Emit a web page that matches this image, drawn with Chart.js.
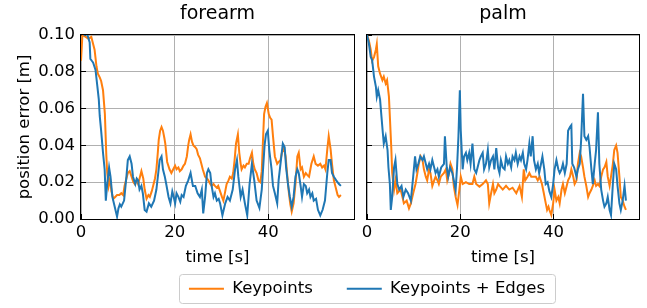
<!DOCTYPE html>
<html>
<head>
<meta charset="utf-8">
<script src="https://cdn.jsdelivr.net/npm/chart.js@4.4.0/dist/chart.umd.min.js"></script>
<style>
  html, body { margin: 0; padding: 0; background: #fff; overflow: hidden; }
  #wrap { position: relative; width: 647px; height: 308px; }
  #forearmChart { position: absolute; left: 0; top: 0; }
  #palmChart { position: absolute; left: 95px; top: 0; }
</style>
</head>
<body>
<div id="wrap">
  <canvas id="forearmChart" width="360" height="308"></canvas>
  <canvas id="palmChart" width="552" height="308"></canvas>
</div>
<script>
// series labels and tick values
const seriesNames = ['Keypoints', 'Keypoints + Edges'];
const xTicks = [0, 20, 40];
const yTicks = [0, 0.02, 0.04, 0.06, 0.08, 0.10];

// forearm - Keypoints (time [s], error [m])
const forearmKpT = [
  0.0, 0.3, 1.0, 1.6, 2.2, 2.6, 2.9, 3.3, 3.6, 4.0, 4.3, 4.7, 5.1, 5.4, 5.6, 5.9, 6.2, 6.5, 6.9, 7.3,
  7.7, 8.2, 8.6, 9.0, 9.3, 9.7, 10.0, 10.4, 10.8, 11.2, 11.5, 11.9, 12.2, 12.6, 12.9, 13.3, 13.6, 14.0, 14.4, 14.7,
  15.1, 15.4, 15.8, 16.1, 16.4, 16.6, 16.9, 17.2, 17.5, 17.8, 18.0, 18.4, 18.9, 19.3, 19.7, 20.1, 20.4, 20.8, 21.1, 21.5,
  21.9, 22.2, 22.6, 22.9, 23.1, 23.4, 23.7, 24.0, 24.4, 24.7, 25.0, 25.4, 25.7, 26.0, 26.5, 26.9, 27.2, 27.6, 27.9, 28.3,
  28.6, 29.0, 29.3, 29.7, 30.1, 30.4, 30.8, 31.1, 31.5, 31.8, 32.2, 32.5, 32.8, 33.1, 33.5, 33.8, 34.1, 34.3, 34.7, 35.0,
  35.4, 35.8, 36.1, 36.5, 36.8, 37.1, 37.5, 37.9, 38.3, 38.6, 38.9, 39.1, 39.4, 39.7, 40.1, 40.4, 40.7, 41.0, 41.4, 41.9,
  42.2, 42.6, 42.9, 43.3, 43.7, 44.0, 44.4, 44.7, 45.0, 45.4, 45.8, 46.2, 46.5, 46.9, 47.2, 47.6, 48.0, 48.3, 48.7, 49.2,
  49.7, 50.1, 50.6, 51.1, 51.5, 51.9, 52.2, 52.6, 52.9, 53.3, 53.6, 54.0, 54.5, 54.8, 55.1, 55.5
];
const forearmKpV = [
  0.086, 0.100, 0.099, 0.098, 0.099, 0.095, 0.092, 0.083, 0.079, 0.077, 0.075, 0.070, 0.057, 0.035, 0.025, 0.018, 0.022, 0.015, 0.011, 0.012,
  0.013, 0.013, 0.014, 0.013, 0.018, 0.022, 0.025, 0.026, 0.023, 0.020, 0.019, 0.021, 0.019, 0.023, 0.026, 0.022, 0.016, 0.011, 0.013, 0.012,
  0.015, 0.018, 0.022, 0.027, 0.036, 0.043, 0.048, 0.050, 0.048, 0.044, 0.041, 0.031, 0.027, 0.025, 0.027, 0.029, 0.027, 0.028, 0.026, 0.027,
  0.029, 0.030, 0.034, 0.040, 0.043, 0.046, 0.042, 0.040, 0.039, 0.038, 0.035, 0.033, 0.030, 0.027, 0.023, 0.022, 0.021, 0.019, 0.018, 0.019,
  0.018, 0.017, 0.018, 0.015, 0.012, 0.010, 0.015, 0.019, 0.021, 0.023, 0.022, 0.025, 0.032, 0.041, 0.046, 0.036, 0.030, 0.027, 0.029, 0.028,
  0.030, 0.030, 0.033, 0.036, 0.030, 0.027, 0.025, 0.021, 0.020, 0.026, 0.045, 0.057, 0.061, 0.063, 0.057, 0.055, 0.054, 0.045, 0.034, 0.030,
  0.031, 0.032, 0.036, 0.039, 0.034, 0.025, 0.014, 0.008, 0.004, 0.0085, 0.019, 0.034, 0.036, 0.027, 0.028, 0.023, 0.025, 0.024, 0.023, 0.030,
  0.034, 0.030, 0.029, 0.030, 0.028, 0.029, 0.027, 0.038, 0.045, 0.038, 0.030, 0.021, 0.016, 0.013, 0.012, 0.013
];

// forearm - Keypoints + Edges
const forearmKeT = [
  0.3, 0.8, 1.2, 1.5, 1.85, 2.0, 2.3, 2.6, 3.1, 3.5, 3.8, 4.0, 4.3, 4.7, 5.05, 5.3, 5.6, 6.0, 6.3, 6.7,
  7.2, 7.7, 8.0, 8.3, 8.6, 9.2, 9.7, 10.0, 10.4, 10.8, 11.1, 11.6, 11.9, 12.2, 12.5, 12.9, 13.2, 13.6, 14.0, 14.5,
  15.0, 15.6, 16.1, 16.5, 16.8, 17.2, 17.5, 17.9, 18.2, 18.7, 19.1, 19.5, 19.8, 20.1, 20.4, 20.8, 21.2, 21.5, 21.9, 22.4,
  22.9, 23.4, 23.9, 24.4, 24.9, 25.4, 25.8, 26.1, 26.5, 26.9, 27.2, 27.6, 27.9, 28.3, 28.6, 29.0, 29.4, 29.7, 30.2, 30.8,
  31.3, 31.8, 32.4, 32.9, 33.3, 33.6, 34.1, 34.5, 35.0, 35.5, 36.0, 36.5, 37.0, 37.5, 38.1, 38.6, 38.9, 39.2, 39.5, 39.9,
  40.2, 40.7, 41.0, 41.4, 41.9, 42.2, 42.6, 43.1, 43.5, 43.8, 44.2, 44.6, 45.0, 45.4, 45.8, 46.2, 46.5, 46.9, 47.2, 47.6,
  48.0, 48.3, 48.7, 49.0, 49.4, 49.7, 50.2, 50.6, 51.1, 51.6, 52.1, 52.6, 52.9, 53.3, 53.6, 54.0, 54.5, 55.1, 55.5
];
const forearmKeV = [
  0.101, 0.100, 0.101, 0.099, 0.096, 0.087, 0.086, 0.085, 0.081, 0.072, 0.065, 0.056, 0.048, 0.036, 0.027, 0.010, 0.019, 0.028, 0.023, 0.012,
  0.0067, 0.0013, 0.0058, 0.008, 0.0067, 0.010, 0.023, 0.032, 0.034, 0.030, 0.023, 0.019, 0.022, 0.021, 0.016, 0.018, 0.014, 0.0049, 0.004, 0.0085,
  0.0067, 0.010, 0.016, 0.025, 0.032, 0.034, 0.027, 0.023, 0.019, 0.012, 0.0085, 0.015, 0.012, 0.0085, 0.014, 0.012, 0.0094, 0.013, 0.012, 0.018,
  0.021, 0.025, 0.018, 0.018, 0.014, 0.012, 0.016, 0.003, 0.012, 0.025, 0.027, 0.025, 0.018, 0.012, 0.014, 0.010, 0.011, 0.0085, 0.002, 0.0085,
  0.012, 0.010, 0.016, 0.027, 0.032, 0.023, 0.012, 0.016, 0.0085, 0.002, 0.019, 0.030, 0.021, 0.010, 0.006, 0.016, 0.028, 0.040, 0.046, 0.048,
  0.0375, 0.027, 0.018, 0.014, 0.0085, 0.021, 0.030, 0.041, 0.039, 0.028, 0.019, 0.012, 0.0067, 0.012, 0.023, 0.027, 0.025, 0.018, 0.012, 0.019,
  0.018, 0.014, 0.016, 0.012, 0.014, 0.010, 0.011, 0.005, 0.002, 0.005, 0.010, 0.025, 0.032, 0.032, 0.025, 0.023, 0.021, 0.019, 0.018
];

// palm - Keypoints
const palmKpT = [
  0.0, 0.4, 0.8, 1.1, 1.5, 1.9, 2.1, 2.4, 2.8, 3.3, 3.6, 4.0, 4.3, 4.7, 4.9, 5.2, 5.4, 5.8, 6.1, 6.5,
  7.2, 7.6, 7.9, 8.5, 9.0, 9.4, 9.9, 10.4, 10.8, 11.1, 11.5, 11.9, 12.2, 12.6, 12.9, 13.3, 13.6, 14.0, 14.4, 14.7,
  15.1, 15.4, 15.8, 16.5, 16.9, 17.2, 17.6, 17.9, 18.3, 18.6, 19.0, 19.4, 19.8, 20.1, 20.5, 21.2, 21.9, 22.6, 23.0, 23.4,
  24.1, 24.8, 25.5, 25.9, 26.2, 26.6, 27.0, 27.3, 27.7, 28.1, 28.4, 29.1, 29.8, 30.5, 31.2, 32.0, 32.7, 33.2, 33.6, 33.9,
  34.4, 34.8, 35.2, 35.5, 36.2, 36.6, 37.0, 37.5, 37.9, 38.2, 38.6, 38.9, 39.1, 39.5, 39.9, 40.2, 40.6, 41.0, 41.3, 41.7,
  42.0, 42.4, 42.8, 43.1, 43.5, 43.8, 44.2, 44.5, 44.9, 45.2, 45.6, 45.9, 46.3, 46.6, 47.0, 47.4, 47.7, 48.1, 48.4, 48.8,
  49.1, 49.5, 49.8, 50.2, 50.6, 50.9, 51.3, 51.6, 52.0, 52.3, 52.7, 53.0, 53.4, 53.7, 54.1, 54.4, 54.8, 55.2, 55.5
];
const palmKpV = [
  0.100, 0.097, 0.092, 0.086, 0.088, 0.092, 0.095, 0.083, 0.079, 0.0755, 0.0774, 0.0737, 0.0755, 0.0665, 0.0556, 0.039, 0.025, 0.016, 0.021, 0.014,
  0.016, 0.012, 0.0085, 0.010, 0.0058, 0.0085, 0.014, 0.019, 0.025, 0.030, 0.034, 0.032, 0.027, 0.023, 0.021, 0.027, 0.025, 0.018, 0.021, 0.023,
  0.021, 0.019, 0.023, 0.025, 0.027, 0.021, 0.025, 0.030, 0.027, 0.018, 0.012, 0.0076, 0.016, 0.023, 0.019, 0.020, 0.019, 0.019, 0.023, 0.019,
  0.0176, 0.019, 0.021, 0.019, 0.0085, 0.014, 0.019, 0.014, 0.016, 0.019, 0.018, 0.016, 0.018, 0.016, 0.017, 0.014, 0.018, 0.012, 0.027, 0.021,
  0.023, 0.025, 0.023, 0.023, 0.023, 0.021, 0.023, 0.019, 0.014, 0.010, 0.0049, 0.0067, 0.0049, 0.0022, 0.0085, 0.016, 0.010, 0.012, 0.0085, 0.016,
  0.019, 0.014, 0.018, 0.021, 0.023, 0.027, 0.023, 0.019, 0.021, 0.030, 0.036, 0.034, 0.028, 0.023, 0.018, 0.012, 0.014, 0.016, 0.018, 0.021,
  0.018, 0.019, 0.018, 0.023, 0.027, 0.028, 0.031, 0.023, 0.018, 0.023, 0.030, 0.0375, 0.040, 0.036, 0.023, 0.012, 0.010, 0.0067, 0.0049
];

// palm - Keypoints + Edges
const palmKeT = [
  0.0, 0.4, 0.8, 1.1, 1.5, 1.9, 2.1, 2.4, 2.8, 3.1, 3.4, 3.6, 4.0, 4.4, 4.6, 4.9, 5.1, 5.4, 5.8, 6.1,
  6.5, 6.9, 7.4, 7.8, 8.3, 8.8, 9.4, 9.9, 10.3, 10.6, 11.0, 11.4, 11.9, 12.2, 12.6, 12.9, 13.3, 13.6, 14.0, 14.4,
  14.7, 15.1, 15.4, 15.9, 16.5, 16.7, 17.1, 17.4, 17.8, 18.3, 18.6, 19.0, 19.3, 19.6, 19.9, 20.1, 20.5, 20.8, 21.2, 21.5,
  21.9, 22.2, 22.6, 23.0, 23.4, 23.7, 24.1, 24.4, 24.8, 25.1, 25.5, 25.9, 26.2, 26.6, 27.0, 27.3, 27.7, 28.1, 28.4, 28.7,
  29.1, 29.5, 29.8, 30.2, 30.5, 30.9, 31.2, 31.6, 31.9, 32.3, 32.7, 33.0, 33.4, 33.7, 34.1, 34.4, 34.8, 35.1, 35.5, 35.8,
  36.2, 36.6, 36.9, 37.3, 37.6, 38.0, 38.3, 38.7, 39.1, 39.5, 39.9, 40.2, 40.6, 41.0, 41.3, 41.7, 42.0, 42.4, 42.8, 43.1,
  43.5, 43.8, 44.0, 44.4, 44.9, 45.2, 45.6, 45.9, 46.3, 46.6, 47.0, 47.4, 47.7, 48.1, 48.4, 48.8, 49.1, 49.5, 49.8, 50.2,
  50.6, 50.9, 51.3, 51.6, 52.0, 52.3, 52.7, 53.0, 53.4, 53.7, 54.1, 54.4, 54.8, 55.2, 55.5
];
const palmKeV = [
  0.100, 0.0955, 0.088, 0.0864, 0.0774, 0.072, 0.0665, 0.070, 0.065, 0.0556, 0.0466, 0.041, 0.045, 0.0375, 0.028, 0.019, 0.0049, 0.012, 0.028, 0.032,
  0.019, 0.016, 0.018, 0.012, 0.016, 0.014, 0.010, 0.023, 0.034, 0.027, 0.030, 0.034, 0.032, 0.034, 0.030, 0.027, 0.030, 0.027, 0.032, 0.028,
  0.025, 0.027, 0.023, 0.028, 0.030, 0.045, 0.028, 0.023, 0.028, 0.025, 0.021, 0.016, 0.028, 0.045, 0.070, 0.048, 0.027, 0.034, 0.036, 0.032,
  0.036, 0.030, 0.041, 0.027, 0.025, 0.028, 0.032, 0.034, 0.036, 0.027, 0.030, 0.0375, 0.028, 0.032, 0.034, 0.027, 0.0385, 0.028, 0.025, 0.032,
  0.028, 0.027, 0.034, 0.030, 0.032, 0.028, 0.034, 0.032, 0.036, 0.030, 0.034, 0.032, 0.036, 0.030, 0.027, 0.032, 0.041, 0.034, 0.045, 0.032,
  0.027, 0.030, 0.025, 0.030, 0.034, 0.027, 0.019, 0.020, 0.015, 0.012, 0.019, 0.027, 0.032, 0.027, 0.025, 0.027, 0.030, 0.025, 0.030, 0.048,
  0.050, 0.051, 0.030, 0.028, 0.023, 0.027, 0.030, 0.043, 0.068, 0.045, 0.043, 0.045, 0.039, 0.027, 0.019, 0.030, 0.0375, 0.058, 0.030, 0.016,
  0.010, 0.0067, 0.0085, 0.012, 0.0049, 0.0022, 0.019, 0.030, 0.027, 0.018, 0.0085, 0.0049, 0.010, 0.018, 0.010
];

const ORANGE = '#ff7f0e';
const BLUE = '#1f77b4';
const FONT = 'DejaVu Sans';

Chart.defaults.font.family = FONT;
Chart.defaults.font.size = 16.5;
Chart.defaults.color = '#000';

const toPoints = (ts, vs) => ts.map((t, i) => ({ x: t, y: vs[i] }));

// black box round the plot area (matplotlib spines)
const frame = {
  id: 'frame',
  afterDatasetsDraw(chart) {
    const { ctx, chartArea: a } = chart;
    ctx.save();
    ctx.strokeStyle = '#000';
    ctx.lineWidth = 1;
    ctx.strokeRect(a.left - 0.5, a.top - 0.5, a.right - a.left + 1, a.bottom - a.top + 1);
    ctx.restore();
  }
};

// grey rounded frame round the legend entries
const legendFrame = {
  id: 'legendFrame',
  afterDraw(chart) {
    const lg = chart.legend;
    if (!lg || !lg.legendHitBoxes || !lg.legendHitBoxes.length) return;
    const hb = lg.legendHitBoxes;
    const first = hb[0], last = hb[hb.length - 1];
    const x0 = first.left - 10, x1 = last.left + last.width + 10;
    const y0 = first.top - 6.5, y1 = first.top + first.height + 6;
    const ctx = chart.ctx;
    ctx.save();
    ctx.strokeStyle = '#cccccc';
    ctx.lineWidth = 1;
    ctx.beginPath();
    ctx.roundRect(Math.round(x0) + 0.5, Math.round(y0) + 0.5, Math.round(x1 - x0), Math.round(y1 - y0), 3);
    ctx.stroke();
    ctx.restore();
  }
};

function makeChart(canvasId, title, kp, ke, isPalm) {
  return new Chart(document.getElementById(canvasId), {
    type: 'line',
    data: {
      datasets: [{
        label: seriesNames[0],
        data: kp,
        borderColor: ORANGE,
        backgroundColor: ORANGE,
        borderWidth: 2,
        pointRadius: 0,
        tension: 0,
        order: 1
      }, {
        label: seriesNames[1],
        data: ke,
        borderColor: BLUE,
        backgroundColor: BLUE,
        borderWidth: 2,
        pointRadius: 0,
        tension: 0,
        order: 0
      }]
    },
    options: {
      responsive: false,
      animation: false,
      events: [],
      layout: { padding: { top: 0, left: 0, right: isPalm ? 8 : 6, bottom: isPalm ? 1 : 0 } },
      scales: {
        x: {
          type: 'linear',
          min: 0,
          max: 58.3,
          afterBuildTicks: s => { s.ticks = xTicks.map(v => ({ value: v })); },
          afterFit: s => { s.height = isPalm ? 27.5 : 89; },
          ticks: { padding: 9, maxRotation: 0, callback: v => String(v) },
          grid: { color: '#b0b0b0', lineWidth: 1, tickLength: -5, tickColor: '#000', tickWidth: 1 },
          border: { display: false },
          title: {
            display: true,
            text: 'time [s]',
            padding: { top: 0, bottom: isPalm ? -21.4 : 40 }
          }
        },
        y: {
          min: 0,
          max: 0.1,
          afterBuildTicks: s => { s.ticks = yTicks.map(v => ({ value: v })); },
          afterFit: s => { s.width = isPalm ? 272 : 81; },
          ticks: { display: !isPalm, padding: 11, callback: v => v.toFixed(2) },
          grid: { color: '#b0b0b0', lineWidth: 1, tickLength: -5, tickColor: '#000', tickWidth: 1 },
          border: { display: false },
          title: {
            display: !isPalm,
            text: 'position error [m]',
            padding: { top: 15, bottom: 0 }
          }
        }
      },
      plugins: {
        title: {
          display: true,
          text: title,
          fullSize: false,
          font: { size: 19, weight: 'normal' },
          color: '#000',
          padding: { top: 3, bottom: 9.2 }
        },
        legend: {
          display: isPalm,
          position: 'bottom',
          labels: {
            usePointStyle: true,
            pointStyle: 'line',
            pointStyleWidth: 35,
            padding: 34,
            color: '#000',
            font: { size: 16.5 },
            sort: (a, b) => a.datasetIndex - b.datasetIndex
          }
        },
        tooltip: { enabled: false }
      }
    },
    plugins: isPalm ? [frame, legendFrame] : [frame]
  });
}

makeChart('forearmChart', 'forearm',
  toPoints(forearmKpT, forearmKpV), toPoints(forearmKeT, forearmKeV), false);
makeChart('palmChart', 'palm',
  toPoints(palmKpT, palmKpV), toPoints(palmKeT, palmKeV), true);
</script>
</body>
</html>
